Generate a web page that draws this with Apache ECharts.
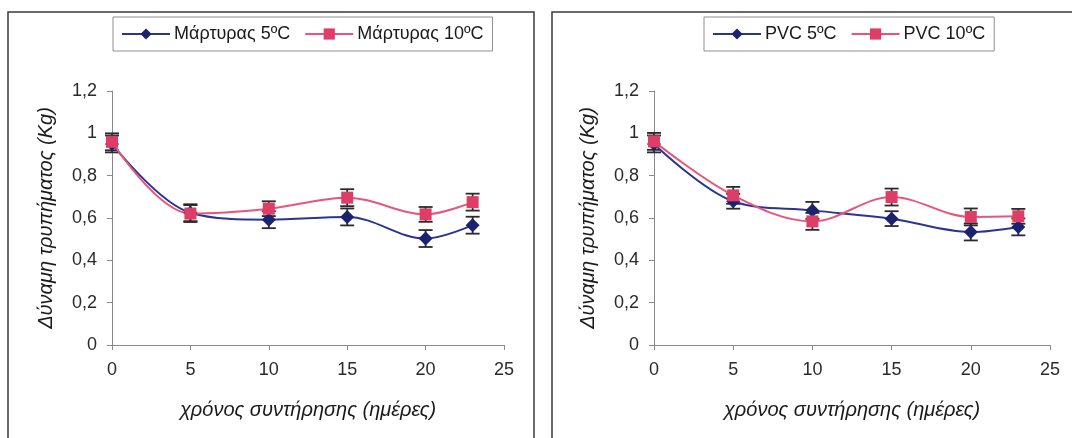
<!DOCTYPE html>
<html>
<head>
<meta charset="utf-8">
<script src="https://cdn.jsdelivr.net/npm/echarts@6/dist/echarts.min.js"></script>
<style>
html,body{margin:0;padding:0;background:#fff;}
#c{width:1072px;height:438px;}
</style>
</head>
<body>
<div id="c"></div>
<script>
// ---- data ----
const days = [0, 5, 10, 15, 20, 23];
const xTicks = [0, 5, 10, 15, 20, 25];
const yTicks = [0, 0.2, 0.4, 0.6, 0.8, 1, 1.2];

const leftNames = ['Μάρτυρας 5ºC', 'Μάρτυρας 10ºC'];
const martyras5 = [0.95, 0.625, 0.592, 0.605, 0.503, 0.566];
const martyras5Err = [0.04, 0.04, 0.04, 0.04, 0.04, 0.04];
const martyras10 = [0.96, 0.621, 0.644, 0.696, 0.617, 0.675];
const martyras10Err = [0.04, 0.04, 0.035, 0.04, 0.035, 0.04];

const rightNames = ['PVC 5ºC', 'PVC 10ºC'];
const pvc5 = [0.95, 0.679, 0.636, 0.597, 0.534, 0.558];
const pvc5Err = [0.04, 0.035, 0.04, 0.035, 0.04, 0.04];
const pvc10 = [0.962, 0.707, 0.584, 0.699, 0.605, 0.608];
const pvc10Err = [0.04, 0.04, 0.04, 0.04, 0.04, 0.035];

const yTitle = 'Δύναμη τρυπήματος (Kg)';
const xTitle = 'χρόνος συντήρησης (ημέρες)';

// ---- styles ----
const BLUE_LINE = '#2a3590';
const BLUE_MARK = '#1b226e';
const RED_LINE = '#e8557a';
const RED_MARK = '#dd3d66';
const FONT = 'Liberation Sans, Arial, sans-serif';

function pairs(xs, ys) { return xs.map((x, i) => [x, ys[i]]); }
function errData(xs, ys, es) { return xs.map((x, i) => [x, ys[i] - es[i], ys[i] + es[i]]); }

function errSeries(gi, data) {
  return {
    type: 'custom', xAxisIndex: gi, yAxisIndex: gi, z: 3, silent: true,
    data: data,
    renderItem: function (params, api) {
      const x = api.value(0);
      const lo = api.coord([x, api.value(1)]);
      const hi = api.coord([x, api.value(2)]);
      const w = 7;
      const st = { stroke: '#2b2b2b', lineWidth: 1.8 };
      return {
        type: 'group',
        children: [
          { type: 'line', shape: { x1: lo[0], y1: lo[1], x2: hi[0], y2: hi[1] }, style: st },
          { type: 'line', shape: { x1: lo[0] - w, y1: lo[1], x2: lo[0] + w, y2: lo[1] }, style: st },
          { type: 'line', shape: { x1: hi[0] - w, y1: hi[1], x2: hi[0] + w, y2: hi[1] }, style: st }
        ]
      };
    }
  };
}

function lineSeries(gi, name, data, isBlue) {
  return {
    type: 'line', name: name, xAxisIndex: gi, yAxisIndex: gi, z: 4,
    data: data, smooth: 0.35,
    symbol: isBlue ? 'diamond' : 'rect',
    symbolSize: isBlue ? 14 : 12,
    lineStyle: { color: isBlue ? BLUE_LINE : RED_LINE, width: 2 },
    itemStyle: { color: isBlue ? BLUE_MARK : RED_MARK },
    emphasis: { disabled: true }
  };
}

function xAxis(gi) {
  return {
    type: 'value', gridIndex: gi, min: 0, max: 25, interval: 5,
    axisLine: { show: true, lineStyle: { color: '#8a8a8a', width: 1 } },
    axisTick: { show: true, inside: false, length: 5, lineStyle: { color: '#8a8a8a' } },
    splitLine: { show: false },
    axisLabel: { color: '#2a2a2a', fontSize: 18, fontFamily: FONT, margin: 16,
      formatter: v => xTicks.includes(v) ? String(v) : '' },
    name: xTitle, nameLocation: 'middle', nameGap: 55,
    nameTextStyle: { color: '#1a1a1a', fontSize: 20, fontStyle: 'italic', fontFamily: FONT }
  };
}

function yAxis(gi) {
  return {
    type: 'value', gridIndex: gi, min: 0, max: 1.2, interval: 0.2,
    axisLine: { show: true, lineStyle: { color: '#8a8a8a', width: 1 } },
    axisTick: { show: true, inside: false, length: 5, lineStyle: { color: '#8a8a8a' } },
    splitLine: { show: false },
    axisLabel: { color: '#2a2a2a', fontSize: 18, fontFamily: FONT, margin: 15,
      formatter: v => {
        const t = yTicks.find(k => Math.abs(k - v) < 1e-9);
        return t === undefined ? '' : String(Math.round(t * 10) / 10).replace('.', ',');
      } },
    name: yTitle, nameLocation: 'middle', nameGap: 56, nameRotate: 90,
    nameTextStyle: { color: '#1a1a1a', fontSize: 20, fontStyle: 'italic', fontFamily: FONT }
  };
}

function legend(names, left) {
  return {
    data: names.map(n => ({ name: n })),
    left: left, top: 17,
    orient: 'horizontal',
    itemWidth: 48, itemHeight: 14, itemGap: 14,
    padding: [8, 9, 8, 8],
    borderColor: '#8f8f8f', borderWidth: 1,
    backgroundColor: '#fff',
    textStyle: { color: '#1a1a1a', fontSize: 18, fontFamily: FONT, padding: [0, 0, 0, -1] },
    selectedMode: false
  };
}

const chart = echarts.init(document.getElementById('c'), null, { renderer: 'canvas' });
chart.setOption({
  animation: false,
  backgroundColor: '#ffffff',
  graphic: [
    { type: 'rect', shape: { x: 8, y: 12, width: 526, height: 440 },
      style: { fill: 'none', stroke: '#3a3a3a', lineWidth: 1.5 }, z: -1 },
    { type: 'rect', shape: { x: 552, y: 12, width: 540, height: 440 },
      style: { fill: 'none', stroke: '#3a3a3a', lineWidth: 1.5 }, z: -1 }
  ],
  legend: [legend(leftNames, 113), legend(rightNames, 704)],
  grid: [
    { left: 112, top: 91, width: 392, height: 254 },
    { left: 654, top: 91, width: 396, height: 254 }
  ],
  xAxis: [xAxis(0), xAxis(1)],
  yAxis: [yAxis(0), yAxis(1)],
  series: [
    errSeries(0, errData(days, martyras5, martyras5Err)),
    errSeries(0, errData(days, martyras10, martyras10Err)),
    lineSeries(0, leftNames[0], pairs(days, martyras5), true),
    lineSeries(0, leftNames[1], pairs(days, martyras10), false),
    errSeries(1, errData(days, pvc5, pvc5Err)),
    errSeries(1, errData(days, pvc10, pvc10Err)),
    lineSeries(1, rightNames[0], pairs(days, pvc5), true),
    lineSeries(1, rightNames[1], pairs(days, pvc10), false)
  ]
});
</script>
</body>
</html>
